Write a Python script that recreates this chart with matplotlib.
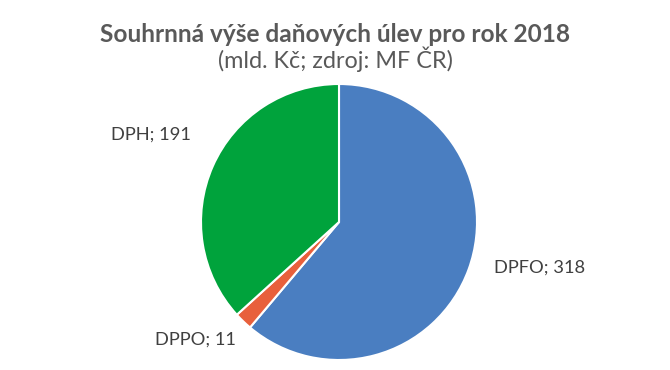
import matplotlib.pyplot as plt

plt.rcParams['font.family'] = ['Lato', 'DejaVu Sans']

labels = ['DPFO', 'DPPO', 'DPH']
values = [318, 11, 191]
colors = ['#4A7EC1', '#E8603C', '#00A33C']

fig = plt.figure(figsize=(6.7, 3.7), dpi=100)
# pie centre at (339, 222) px, radius 138 px
ax = fig.add_axes([(339 - 138) / 670, (370 - 222 - 138) / 370, 276 / 670, 276 / 370])
wedges, texts = ax.pie(values, colors=colors, startangle=90, counterclock=False,
                       labels=[f'{l}; {v}' for l, v in zip(labels, values)],
                       wedgeprops=dict(edgecolor='white', linewidth=1.5),
                       textprops=dict(fontsize=13.2, color='#404040'))
ax.set_xlim(-1, 1)
ax.set_ylim(-1, 1)
ax.set_aspect('equal')

# label placement as in the original
pos = [(1.45, -0.33), (-1.04, -0.855), (-1.36, 0.63)]
for t, p in zip(texts, pos):
    t.set_position(p)
    t.set_ha('center')
    t.set_va('center')

fig.text(0.5, 1 - 34 / 370, 'Souhrnná výše daňových úlev pro rok 2018',
         ha='center', va='center', fontsize=17.6, fontweight='bold', color='#595959')
fig.text(0.5, 1 - 59 / 370, '(mld. Kč; zdroj: MF ČR)',
         ha='center', va='center', fontsize=16.8, color='#595959')

fig.savefig('out.png', dpi=100)
